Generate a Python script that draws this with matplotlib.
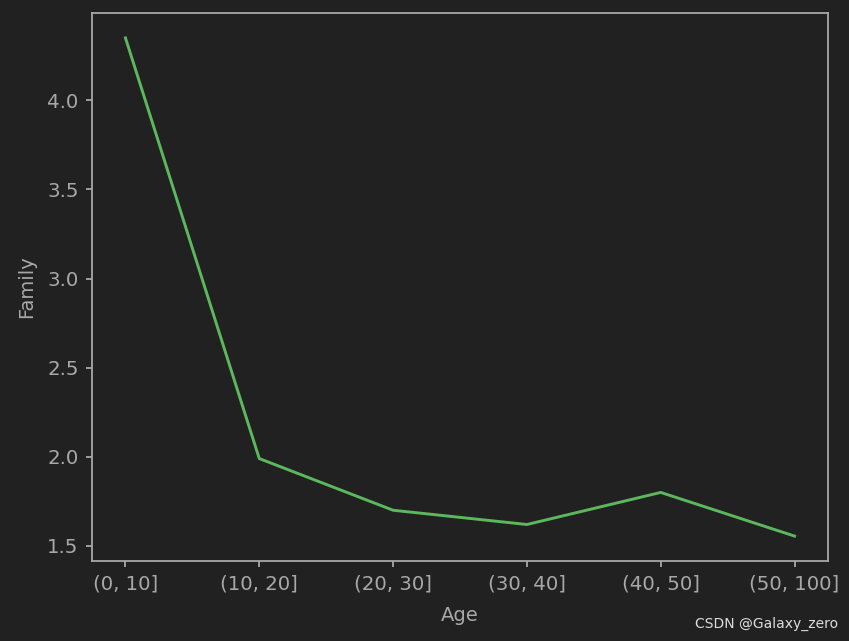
import matplotlib
matplotlib.use("Agg")
import matplotlib.pyplot as plt

categories = ["(0, 10]", "(10, 20]", "(20, 30]", "(30, 40]", "(40, 50]", "(50, 100]"]
family = [4.35, 1.99, 1.70, 1.62, 1.80, 1.555]

bg = "#212121"
fg = "#a8a8a8"
plt.rcParams['font.family'] = ['DejaVu Sans']

fig = plt.figure(figsize=(8.49, 6.41), dpi=100)
fig.patch.set_facecolor(bg)
ax = fig.add_axes([92/849, 1-561/641, (828-92)/849, (561-13)/641])
ax.set_facecolor(bg)
ax.plot(categories, family, color="#5cb85c", linewidth=2.1)
for s in ax.spines.values():
    s.set_color(fg)
    s.set_linewidth(1.3)
ax.tick_params(colors=fg, labelsize=14.2, length=4.6, width=1.3, pad=5)
ax.set_xlabel("Age", color=fg, fontsize=14, labelpad=9)
ax.set_ylabel("Family", color=fg, fontsize=14, labelpad=8)
fig.text(838/849, 1-624/641, "CSDN @Galaxy_zero", color="#dddddd", fontsize=10,
         ha="right", va="center")
fig.savefig("out.png", dpi=100, facecolor=bg)
